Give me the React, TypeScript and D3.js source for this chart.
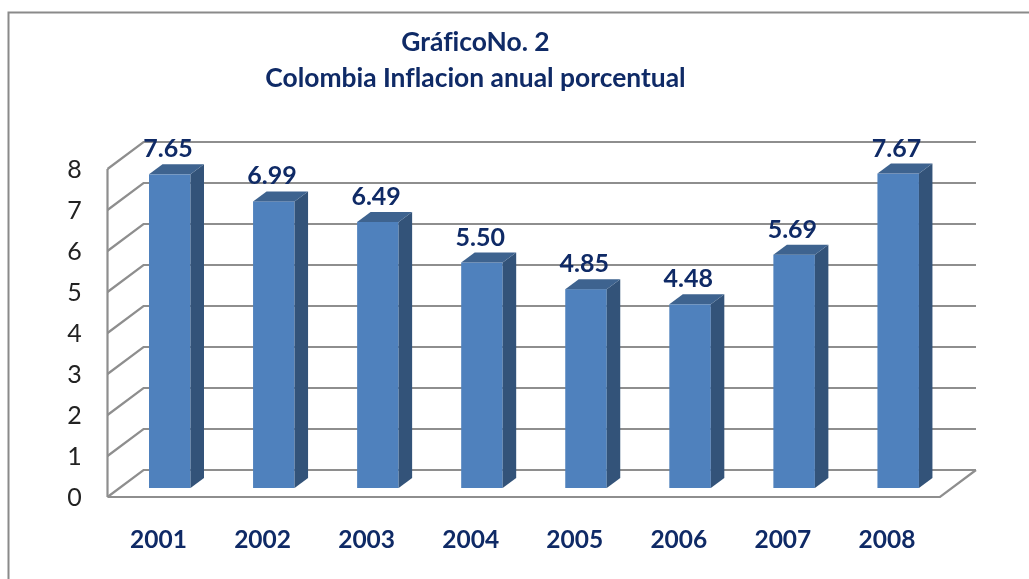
import { useEffect, useRef } from "react";
import * as d3 from "d3";

const years = ["2001", "2002", "2003", "2004", "2005", "2006", "2007", "2008"];
const inflation = [7.65, 6.99, 6.49, 5.5, 4.85, 4.48, 5.69, 7.67];
const yTicks = [0, 1, 2, 3, 4, 5, 6, 7, 8];
const titleLines = ["GráficoNo. 2", "Colombia Inflacion anual porcentual"];

const WIDTH = 1029;
const HEIGHT = 579;
const FONT = "Lato, 'Open Sans', sans-serif";
const NAVY = "#0f2a66";
const GRID = "#8e8e8e";

export default function App() {
  const ref = useRef<SVGSVGElement | null>(null);

  useEffect(() => {
    if (!ref.current) return;
    const svg = d3.select(ref.current);
    svg.selectAll("*").remove();

    // marco del grafico (solo izquierda y arriba quedan dentro de la imagen)
    svg.append("path")
      .attr("d", `M8.5,${HEIGHT} V12.5 H${WIDTH}`)
      .attr("fill", "none")
      .attr("stroke", "#8a8a8a")
      .attr("stroke-width", 2);

    // piso y pared en perspectiva
    const wallX = 107.5;
    const floorRight = 940;
    const depthX = 36;
    const depthY = -27;
    const y = d3.scaleLinear().domain([0, 8]).range([497, 169]);
    const x = d3.scaleBand<string>().domain(years).range([wallX, floorRight]);

    const grid = svg.append("g").attr("fill", "none").attr("stroke", GRID).attr("stroke-width", 2.2);
    yTicks.forEach((t) => {
      grid.append("path").attr(
        "d",
        `M${wallX},${y(t)} L${wallX + depthX},${y(t) + depthY} H${floorRight + depthX}`
      );
    });
    grid.append("line")
      .attr("x1", wallX).attr("x2", wallX)
      .attr("y1", y(0)).attr("y2", y(8));
    grid.append("path").attr(
      "d",
      `M${wallX},${y(0)} H${floorRight} L${floorRight + depthX},${y(0) + depthY}`
    );

    // etiquetas eje Y
    svg.append("g")
      .selectAll("text")
      .data(yTicks)
      .join("text")
      .attr("x", 74.5)
      .attr("y", (d) => y(d) + 9)
      .attr("text-anchor", "middle")
      .attr("font-family", FONT)
      .attr("font-size", 25)
      .attr("fill", "#222")
      .text((d) => d);

    // barras 3D
    const barW = 41.5;
    const barOffset = 41.5;
    const sideX = 13.5;
    const sideY = -10;
    const barBase = y(0) - 9;
    const barY = d3.scaleLinear().domain([0, 8]).range([barBase, barBase - 328]);

    const bars = svg.append("g")
      .selectAll("g")
      .data(inflation)
      .join("g")
      .attr("transform", (_, i) => `translate(${(x(years[i]) as number) + barOffset},0)`);

    bars.append("rect")
      .attr("x", 0)
      .attr("y", (d) => barY(d))
      .attr("width", barW)
      .attr("height", (d) => barBase - barY(d))
      .attr("fill", "#4f81bd");
    bars.append("path")
      .attr("d", (d) => `M${barW},${barY(d)} l${sideX},${sideY} V${barBase + sideY} L${barW},${barBase} Z`)
      .attr("fill", "#335379");
    bars.append("path")
      .attr("d", (d) => `M0,${barY(d)} l${sideX},${sideY} h${barW} l${-sideX},${-sideY} Z`)
      .attr("fill", "#3e638f");

    // valores sobre cada barra
    bars.append("text")
      .attr("x", 19)
      .attr("y", (d) => barY(d) - 17)
      .attr("text-anchor", "middle")
      .attr("font-family", FONT)
      .attr("font-size", 25)
      .attr("font-weight", 700)
      .attr("fill", NAVY)
      .text((d) => d.toFixed(2));

    // años
    svg.append("g")
      .selectAll("text")
      .data(years)
      .join("text")
      .attr("x", (d) => (x(d) as number) + 51)
      .attr("y", 548)
      .attr("text-anchor", "middle")
      .attr("font-family", FONT)
      .attr("font-size", 24.5)
      .attr("font-weight", 700)
      .attr("fill", NAVY)
      .text((d) => d);

    // titulo
    svg.append("g")
      .selectAll("text")
      .data(titleLines)
      .join("text")
      .attr("x", 475.5)
      .attr("y", (_, i) => 51 + i * 36)
      .attr("text-anchor", "middle")
      .attr("font-family", FONT)
      .attr("font-size", 26.4)
      .attr("font-weight", 700)
      .attr("fill", NAVY)
      .style("font-variant-ligatures", "none")
      .text((d) => d);
  }, []);

  return (
    <svg
      ref={ref}
      width={WIDTH}
      height={HEIGHT}
      style={{ position: "fixed", left: 0, top: 0, background: "#fff", filter: "blur(0.4px)" }}
    />
  );
}
